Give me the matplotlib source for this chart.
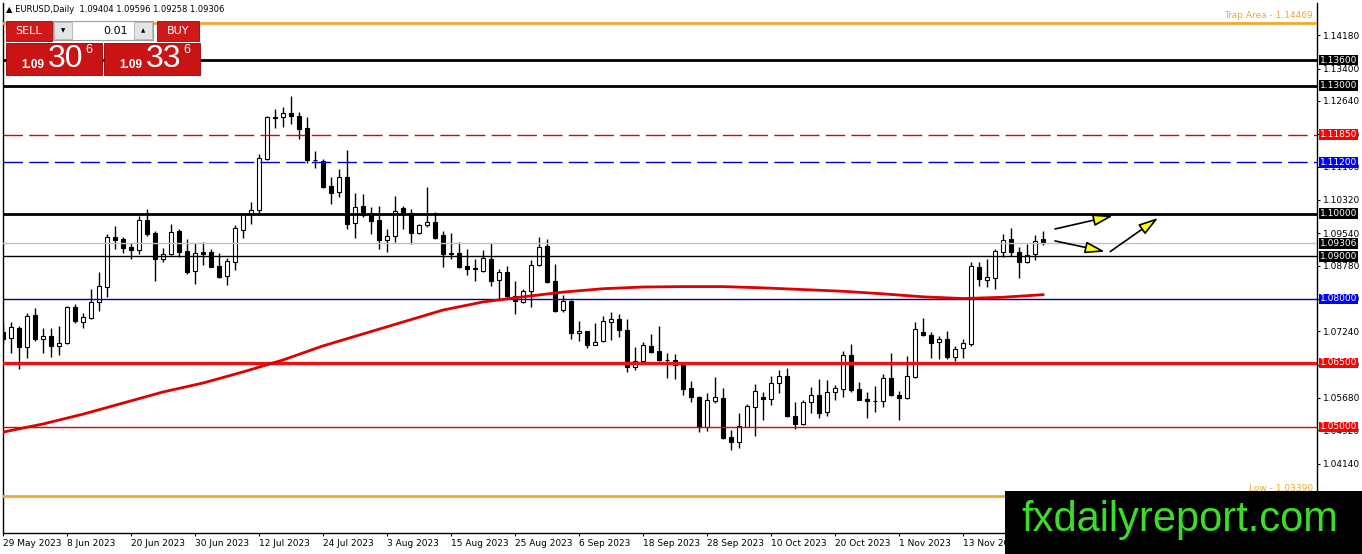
import numpy as np
import pandas as pd
import matplotlib
matplotlib.use("Agg")
from matplotlib import pyplot as plt
from matplotlib import transforms
from matplotlib.patches import Rectangle

plt.rcParams['font.family'] = ['DejaVu Sans']

# daily EURUSD candles, 29 May 2023 .. 27 Nov 2023
opens = [1.07219, 1.07094, 1.07313, 1.06867, 1.07617, 1.07055, 1.07125, 1.06906, 1.06961, 1.07812,
         1.07453, 1.07547, 1.07922, 1.08273, 1.09445, 1.09406, 1.09218, 1.09156, 1.09843, 1.09546,
         1.08929, 1.09046, 1.09593, 1.09124, 1.08664, 1.09093, 1.09101, 1.08773, 1.08539, 1.08859,
         1.09624, 1.09999, 1.10077, 1.11288, 1.12250, 1.12256, 1.12350, 1.12288, 1.11999, 1.11260,
         1.11233, 1.10647, 1.10499, 1.10850, 1.09773, 1.10171, 1.10015, 1.09851, 1.09374, 1.09468,
         1.10140, 1.10007, 1.09538, 1.09734, 1.09804, 1.09499, 1.09070, 1.09077, 1.08772, 1.08718,
         1.08663, 1.08929, 1.08437, 1.08632, 1.08077, 1.07921, 1.08179, 1.08788, 1.09233, 1.08421,
         1.07734, 1.07952, 1.07195, 1.07242, 1.06929, 1.07007, 1.07468, 1.07530, 1.07273, 1.06398,
         1.06554, 1.06898, 1.06773, 1.06570, 1.06578, 1.06453, 1.05914, 1.05703, 1.04992, 1.05617,
         1.05672, 1.04758, 1.04641, 1.05008, 1.05477, 1.05695, 1.05648, 1.06023, 1.06187, 1.05258,
         1.05063, 1.05578, 1.05742, 1.05344, 1.05812, 1.05898, 1.06687, 1.05883, 1.05656, 1.05605,
         1.05617, 1.06140, 1.05742, 1.05672, 1.06172, 1.07234, 1.07148, 1.06984, 1.07054, 1.06648,
         1.06843, 1.06945, 1.08757, 1.08444, 1.08483, 1.09093, 1.09397, 1.09093, 1.08858, 1.09046,
         1.09404]
highs = [1.07430, 1.07453, 1.07367, 1.07664, 1.07781, 1.07313, 1.07313, 1.07375, 1.07844, 1.07883,
         1.07664, 1.08226, 1.08625, 1.09523, 1.09718, 1.09460, 1.09320, 1.09937, 1.10116, 1.09601,
         1.09187, 1.09757, 1.09648, 1.09406, 1.09304, 1.09328, 1.09164, 1.09070, 1.08953, 1.09734,
         1.10023, 1.10273, 1.11397, 1.12288, 1.12444, 1.12491, 1.12756, 1.12389, 1.12272, 1.11467,
         1.11288, 1.10866, 1.11054, 1.11491, 1.10476, 1.10452, 1.10163, 1.10187, 1.09640, 1.10413,
         1.10179, 1.10109, 1.09757, 1.10624, 1.10046, 1.09585, 1.09538, 1.09327, 1.09163, 1.08929,
         1.09139, 1.09319, 1.08702, 1.08765, 1.08421, 1.08233, 1.08913, 1.09452, 1.09397, 1.08819,
         1.08085, 1.07976, 1.07476, 1.07257, 1.07429, 1.07601, 1.07695, 1.07648, 1.07523, 1.06867,
         1.06992, 1.07171, 1.07367, 1.06726, 1.06703, 1.06523, 1.06078, 1.05719, 1.05805, 1.06164,
         1.05906, 1.04930, 1.05320, 1.05547, 1.06008, 1.05828, 1.06203, 1.06328, 1.06375, 1.05586,
         1.05633, 1.05937, 1.06117, 1.06109, 1.05992, 1.06781, 1.06945, 1.06047, 1.05820, 1.05961,
         1.06242, 1.06726, 1.05851, 1.06671, 1.07452, 1.07554, 1.07218, 1.07132, 1.07257, 1.06906,
         1.07054, 1.08858, 1.08874, 1.08944, 1.09163, 1.09522, 1.09655, 1.09210, 1.09288, 1.09491,
         1.09596]
lows = [1.06961, 1.06727, 1.06352, 1.06610, 1.07024, 1.06727, 1.06649, 1.06680, 1.06938, 1.07430,
        1.07313, 1.07523, 1.07711, 1.08039, 1.09179, 1.09070, 1.08929, 1.09046, 1.09484, 1.08429,
        1.08875, 1.09023, 1.08976, 1.08586, 1.08343, 1.08796, 1.08742, 1.08500, 1.08336, 1.08671,
        1.09421, 1.09765, 1.10023, 1.11257, 1.12014, 1.12022, 1.12092, 1.11741, 1.11178, 1.11077,
        1.10608, 1.10218, 1.10382, 1.09648, 1.09421, 1.09929, 1.09515, 1.09164, 1.09109, 1.09343,
        1.09648, 1.09281, 1.09523, 1.09687, 1.09413, 1.08740, 1.08936, 1.08718, 1.08561, 1.08429,
        1.08640, 1.08304, 1.07991, 1.08030, 1.07640, 1.07898, 1.07819, 1.08772, 1.08366, 1.07702,
        1.07702, 1.07054, 1.07023, 1.06859, 1.06921, 1.06984, 1.07039, 1.07117, 1.06297, 1.06328,
        1.06539, 1.06742, 1.06554, 1.06156, 1.06133, 1.05758, 1.05594, 1.04875, 1.04899, 1.05570,
        1.04711, 1.04461, 1.04500, 1.04992, 1.04789, 1.05164, 1.05516, 1.05805, 1.05227, 1.04945,
        1.05039, 1.05320, 1.05219, 1.05266, 1.05633, 1.05695, 1.05812, 1.05625, 1.05219, 1.05344,
        1.05461, 1.05726, 1.05164, 1.05656, 1.06140, 1.07140, 1.06625, 1.06586, 1.06586, 1.06554,
        1.06625, 1.06906, 1.08312, 1.08288, 1.08241, 1.08991, 1.09007, 1.08499, 1.08835, 1.08921,
        1.09258]
closes = [1.07055, 1.07336, 1.06867, 1.07594, 1.07055, 1.07125, 1.06906, 1.06961, 1.07812, 1.07477,
          1.07570, 1.07922, 1.08297, 1.09445, 1.09374, 1.09203, 1.09156, 1.09843, 1.09523, 1.08929,
          1.09054, 1.09577, 1.09109, 1.08632, 1.09085, 1.09062, 1.08757, 1.08523, 1.08890, 1.09656,
          1.09991, 1.10077, 1.11296, 1.12264, 1.12260, 1.12350, 1.12288, 1.11991, 1.11257, 1.11250,
          1.10632, 1.10491, 1.10850, 1.09765, 1.10155, 1.09968, 1.09820, 1.09374, 1.09468, 1.10054,
          1.10015, 1.09554, 1.09734, 1.09796, 1.09437, 1.09046, 1.09060, 1.08757, 1.08710, 1.08694,
          1.08952, 1.08429, 1.08624, 1.08069, 1.07944, 1.08187, 1.08788, 1.09210, 1.08405, 1.07726,
          1.07944, 1.07195, 1.07242, 1.06929, 1.06984, 1.07476, 1.07523, 1.07273, 1.06414, 1.06554,
          1.06921, 1.06757, 1.06570, 1.06578, 1.06445, 1.05898, 1.05695, 1.04992, 1.05633, 1.05695,
          1.04742, 1.04641, 1.05016, 1.05492, 1.05836, 1.05648, 1.06023, 1.06187, 1.05258, 1.05063,
          1.05586, 1.05742, 1.05336, 1.05812, 1.05906, 1.06679, 1.05867, 1.05641, 1.05602, 1.05618,
          1.06140, 1.05742, 1.05672, 1.06187, 1.07288, 1.07148, 1.06976, 1.07070, 1.06648, 1.06835,
          1.06960, 1.08780, 1.08460, 1.08507, 1.09132, 1.09389, 1.09093, 1.08858, 1.09038, 1.09366,
          1.09306]

# 200-day moving average read every 5 bars
ma_bars = [0, 5, 10, 15, 20, 25, 30, 35, 40, 45, 50, 55, 60, 65, 70, 75, 80, 85, 90, 95,
           100, 105, 110, 115, 120, 125, 130]
ma_vals = [1.0488, 1.0507, 1.0530, 1.0556, 1.0582, 1.0603, 1.0629, 1.0657, 1.0690, 1.0718,
           1.0746, 1.0774, 1.0793, 1.0805, 1.0816, 1.0824, 1.0828, 1.0829, 1.0829, 1.0826,
           1.0822, 1.0818, 1.0812, 1.0805, 1.0801, 1.0804, 1.0810]

# horizontal levels drawn on the chart
level_vals = [1.14469, 1.13600, 1.13000, 1.11850, 1.11200, 1.10000, 1.09306, 1.09000,
              1.08000, 1.06500, 1.05000, 1.03390]
level_style = [('#f0a830', 2.0, '-'), ('black', 2.0, '-'), ('black', 2.0, '-'),
               ('#e00000', 1.0, (0, (14, 4.5))), ('#0000c8', 1.0, (0, (14, 4.5))),
               ('black', 2.0, '-'), ('#c0c0c0', 1.0, '-'), ('black', 1.0, '-'),
               ('#000090', 1.0, '-'), ('#ee1111', 2.4, '-'), ('#e00000', 1.0, '-'),
               ('#f0a830', 2.0, '-')]
# price boxes on the right scale
box_vals = [1.13600, 1.13000, 1.11850, 1.11200, 1.10000, 1.09306, 1.09000, 1.08000, 1.06500, 1.05000]
box_cols = ['black', 'black', '#ff0000', '#0000ff', 'black', 'black', 'black', '#0000ff', '#ff0000', '#ff0000']

ytick_vals = [1.14180, 1.13400, 1.12640, 1.11860, 1.11100, 1.10320, 1.09540, 1.08780,
              1.08000, 1.07240, 1.06460, 1.05680, 1.04920, 1.04140]

dates = pd.bdate_range('2023-05-29', periods=len(opens))
xtick_bars = list(range(0, 121, 8))

W, H = 1362, 554
fig = plt.figure(figsize=(W / 100, H / 100), dpi=100)
ax = fig.add_axes([3 / W, (H - 533) / H, 1314 / W, 530 / H])

o = np.array(opens)
h = np.array(highs)
l = np.array(lows)
c = np.array(closes)
x = np.arange(len(o))

ax.vlines(x, l, h, color='black', lw=1.0, zorder=2)
face = np.where(c < o, 'black', 'white')
ax.bar(x, np.maximum(np.abs(c - o), 0.00001), bottom=np.minimum(o, c), width=0.6,
       color=face, edgecolor='black', linewidth=0.8, zorder=3)

for v, (col, lw, ls) in zip(level_vals, level_style):
    ax.axhline(v, color=col, lw=lw, ls=ls, zorder=4)

ax.plot(ma_bars, ma_vals, color='#e00000', lw=2.0, zorder=5)

# arrows (annotation)
arrows = [((131.5, 1.0964), (138.75, 1.0995)),
          ((131.5, 1.0936), (137.75, 1.0911)),
          ((138.4, 1.0911), (144.4, 1.0990))]
for start, end in arrows:
    ax.annotate('', xy=end, xytext=start,
                arrowprops=dict(arrowstyle='-|>,head_length=1.0,head_width=0.3',
                                fc='#ffff00', ec='black', lw=1.2, mutation_scale=12,
                                shrinkA=0, shrinkB=0), zorder=6)

ax.set_xlim(0, 164.25)
ax.set_ylim(1.02515, 1.14936)

ax.spines['top'].set_visible(False)
for s in ['left', 'right', 'bottom']:
    ax.spines[s].set_linewidth(1.0)
    ax.spines[s].set_color('black')

ax.yaxis.tick_right()
ax.set_yticks(ytick_vals)
ax.set_yticklabels(['%.5f' % v for v in ytick_vals])
ax.tick_params(axis='y', labelsize=6.5, length=2.5, pad=1.5, width=0.8)
ax.set_xticks(xtick_bars)
ax.set_xticklabels([f"{dates[i].day} {dates[i].strftime('%b %Y')}" for i in xtick_bars])
ax.tick_params(axis='x', labelsize=6.5, length=2.5, pad=1.5, width=0.8)
for lbl in ax.get_xticklabels():
    lbl.set_ha('left')

trans = transforms.blended_transform_factory(ax.transAxes, ax.transData)
for v, col in zip(box_vals, box_cols):
    ax.text(1 + 3 / 1314, v, '%.5f' % v, transform=trans, ha='left', va='center',
            fontsize=6.5, color='white', clip_on=False, zorder=10,
            bbox=dict(boxstyle='square,pad=0.1', fc=col, ec='none'))

ax.annotate('Trap Area - 1.14469', xy=(1, 1.14469), xycoords=trans, xytext=(-3, 2),
            textcoords='offset points', ha='right', va='bottom', fontsize=6.5, color='#f0a830')
ax.annotate('Low - 1.03390', xy=(1, 1.03390), xycoords=trans, xytext=(-3, 2),
            textcoords='offset points', ha='right', va='bottom', fontsize=6.5, color='#f0a830')

# overlay in pixel space: header, trade panel, watermark
ov = fig.add_axes([0, 0, 1, 1], zorder=20)
ov.set_xlim(0, W)
ov.set_ylim(H, 0)
ov.axis('off')

ov.text(6, 10, '\u25b2 EURUSD,Daily  1.09404 1.09596 1.09258 1.09306', fontsize=6,
        va='center', ha='left', color='black')

red = '#d01a1a'
ov.add_patch(Rectangle((6, 21), 46, 20, fc=red, ec='#a00000', lw=0.6))
ov.text(29, 31, 'SELL', color='white', fontsize=8, ha='center', va='center')
ov.add_patch(Rectangle((157, 21), 42, 20, fc=red, ec='#a00000', lw=0.6))
ov.text(178, 31, 'BUY', color='white', fontsize=8, ha='center', va='center')
ov.add_patch(Rectangle((53, 21), 100, 19, fc='white', ec='#a0a0a0', lw=0.8))
ov.add_patch(Rectangle((54, 22), 18, 17, fc='#e4e4e4', ec='#b0b0b0', lw=0.6))
ov.add_patch(Rectangle((134, 22), 18, 17, fc='#e4e4e4', ec='#b0b0b0', lw=0.6))
ov.text(63, 30.5, '\u25bc', fontsize=4, ha='center', va='center', color='black')
ov.text(143, 30.5, '\u25b2', fontsize=4, ha='center', va='center', color='black')
ov.text(128, 30.5, '0.01', fontsize=8, ha='right', va='center', color='black')

for x0, big in [(6, '30'), (104, '33')]:
    ov.add_patch(Rectangle((x0, 43), 96, 32, fc='#c81414', ec='#900000', lw=0.6))
    ov.text(x0 + 15, 65, '1.09', fontsize=8.5, fontweight='bold', color='white',
            ha='left', va='center', family='Liberation Sans')
    ov.text(x0 + 42, 59, big, fontsize=23, color='white', ha='left', va='center',
            family='Liberation Sans')
    ov.text(x0 + 79, 50, '6', fontsize=9, color='white', ha='left', va='center',
            family='Liberation Sans')

ov.add_patch(Rectangle((1005, 491), W - 1005, H - 491, fc='black', ec='none'))
ov.text(1021, 531, 'fxdailyreport.com', fontsize=30, color='#3ddc28', ha='left',
        va='baseline', family='Liberation Sans')

fig.savefig('out.png', dpi=100)
